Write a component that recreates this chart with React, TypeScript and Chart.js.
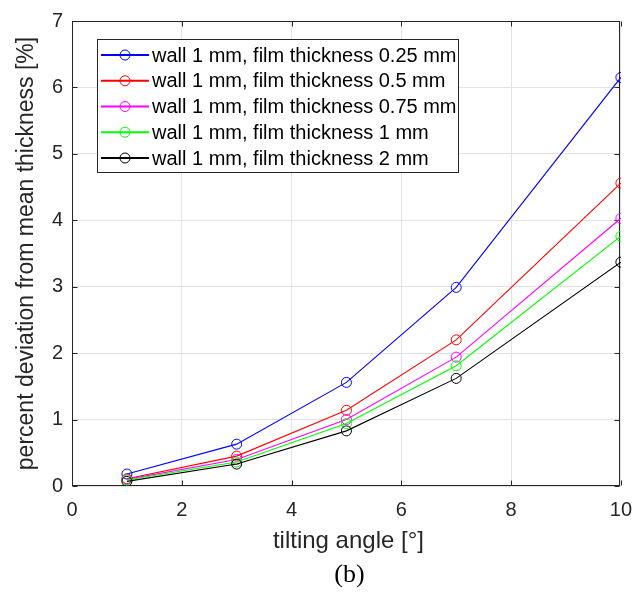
import React, { useEffect, useRef } from "react";
import { Chart, registerables } from "chart.js";

Chart.register(...registerables);

// ---- data ----
const tiltAngles = [1, 3, 5, 7, 10];
const devFilm025 = [0.18, 0.63, 1.56, 2.99, 6.15];
const devFilm05 = [0.11, 0.45, 1.14, 2.2, 4.56];
const devFilm075 = [0.1, 0.4, 1.0, 1.94, 4.03];
const devFilm1 = [0.09, 0.36, 0.94, 1.81, 3.76];
const devFilm2 = [0.07, 0.33, 0.83, 1.62, 3.37];

const seriesLabels = [
  "wall 1 mm, film thickness 0.25 mm",
  "wall 1 mm, film thickness 0.5 mm",
  "wall 1 mm, film thickness 0.75 mm",
  "wall 1 mm, film thickness 1 mm",
  "wall 1 mm, film thickness 2 mm",
];
const seriesValues = [devFilm025, devFilm05, devFilm075, devFilm1, devFilm2];
const seriesColors = ["#0000ff", "#ff0000", "#ff00ff", "#00ff00", "#000000"];

const xTickValues = [0, 2, 4, 6, 8, 10];
const yTickValues = [0, 1, 2, 3, 4, 5, 6, 7];

const xTitle = "tilting angle [°]";
const yTitle = "percent deviation from mean thickness [%]";
const caption = "(b)";

const SANS = '"Liberation Sans", Arial, Helvetica, sans-serif';
const SERIF = '"Liberation Serif", "Times New Roman", serif';
const AXIS = "#262626";

export default function App() {
  const ref = useRef<HTMLCanvasElement | null>(null);

  useEffect(() => {
    const canvas = ref.current;
    if (!canvas) return;

    const decor = {
      id: "matlabDecor",
      beforeDatasetsDraw(chart: any) {
        const { ctx, chartArea: a } = chart;
        const xs = chart.scales.x;
        const ys = chart.scales.y;
        const L = Math.floor(a.left) + 0.5;
        const R = Math.floor(a.right) - 0.5;
        const T = Math.floor(a.top) + 0.5;
        const B = Math.floor(a.bottom) - 0.5;
        ctx.save();
        ctx.strokeStyle = AXIS;
        ctx.lineWidth = 1;
        ctx.strokeRect(L, T, R - L, B - T);
        const tl = 5;
        ctx.beginPath();
        xTickValues.forEach((v) => {
          const px = Math.round(xs.getPixelForValue(v)) + 0.5;
          ctx.moveTo(px, B);
          ctx.lineTo(px, B - tl);
          ctx.moveTo(px, T);
          ctx.lineTo(px, T + tl);
        });
        yTickValues.forEach((v) => {
          const py = Math.round(ys.getPixelForValue(v)) + 0.5;
          ctx.moveTo(L, py);
          ctx.lineTo(L + tl, py);
          ctx.moveTo(R, py);
          ctx.lineTo(R - tl, py);
        });
        ctx.stroke();
        ctx.restore();
      },
      afterDraw(chart: any) {
        const { ctx, chartArea: a } = chart;
        ctx.save();
        // axis titles
        ctx.fillStyle = AXIS;
        ctx.textAlign = "center";
        ctx.textBaseline = "alphabetic";
        ctx.font = `24px ${SANS}`;
        ctx.fillText(xTitle, (a.left + a.right) / 2 + 2, 548);
        ctx.font = `23px ${SANS}`;
        ctx.save();
        ctx.translate(33, (a.top + a.bottom) / 2);
        ctx.rotate(-Math.PI / 2);
        ctx.fillText(yTitle, 0, 0);
        ctx.restore();
        // caption
        ctx.fillStyle = "#000";
        ctx.font = `26px ${SERIF}`;
        ctx.fillText(caption, (a.left + a.right) / 2 + 3, 582);

        // legend
        const bx = 97.5, by = 39.5, bw = 361, bh = 133;
        ctx.fillStyle = "#ffffff";
        ctx.fillRect(bx, by, bw, bh);
        ctx.strokeStyle = AXIS;
        ctx.lineWidth = 1;
        ctx.strokeRect(bx, by, bw, bh);
        ctx.font = `20px ${SANS}`;
        ctx.textAlign = "left";
        ctx.textBaseline = "middle";
        seriesLabels.forEach((lab, i) => {
          const y = 55 + i * 25.75;
          ctx.strokeStyle = seriesColors[i];
          ctx.lineWidth = 2;
          ctx.beginPath();
          ctx.moveTo(101, y);
          ctx.lineTo(149, y);
          ctx.stroke();
          ctx.lineWidth = 1;
          ctx.beginPath();
          ctx.arc(125, y, 5, 0, Math.PI * 2);
          ctx.stroke();
          ctx.fillStyle = "#000000";
          ctx.fillText(lab, 152, y + 1);
        });
        ctx.restore();
      },
    };

    const datasets = seriesValues.map((vals, i) => ({
      label: seriesLabels[i],
      data: tiltAngles.map((x, j) => ({ x, y: vals[j] })),
      borderColor: seriesColors[i],
      backgroundColor: "rgba(0,0,0,0)",
      pointBackgroundColor: "rgba(0,0,0,0)",
      pointBorderColor: seriesColors[i],
      pointRadius: 5,
      pointBorderWidth: 1,
      borderWidth: 1.1,
      tension: 0,
      fill: false,
      order: seriesValues.length - i,
    }));

    const chart = new Chart(canvas, {
      type: "line",
      data: { datasets },
      plugins: [decor],
      options: {
        responsive: false,
        animation: false,
        events: [],
        layout: { padding: { top: 19, right: 22, left: 0, bottom: 0 } },
        plugins: {
          legend: { display: false },
          tooltip: { enabled: false },
          title: { display: false },
        },
        scales: {
          x: {
            type: "linear",
            min: 0,
            max: 10,
            afterFit: (s: any) => {
              s.height = 107;
            },
            afterBuildTicks: (s: any) => {
              s.ticks = xTickValues.map((v) => ({ value: v }));
            },
            ticks: {
              color: AXIS,
              font: { family: SANS, size: 20 },
              padding: 12,
              maxRotation: 0,
              autoSkip: false,
            },
            grid: { color: "#e3e3e3", drawTicks: false, lineWidth: 1 },
            border: { display: false },
          },
          y: {
            type: "linear",
            min: 0,
            max: 7,
            afterFit: (s: any) => {
              s.width = 72;
            },
            afterBuildTicks: (s: any) => {
              s.ticks = yTickValues.map((v) => ({ value: v }));
            },
            ticks: {
              color: AXIS,
              font: { family: SANS, size: 20 },
              padding: 9,
              autoSkip: false,
            },
            grid: { color: "#e3e3e3", drawTicks: false, lineWidth: 1 },
            border: { display: false },
          },
        },
      },
    });

    return () => chart.destroy();
  }, []);

  return (
    <div style={{ position: "absolute", left: 0, top: 0, width: 644, height: 593, background: "#fff" }}>
      <canvas ref={ref} width={644} height={593} style={{ display: "block" }} />
    </div>
  );
}
